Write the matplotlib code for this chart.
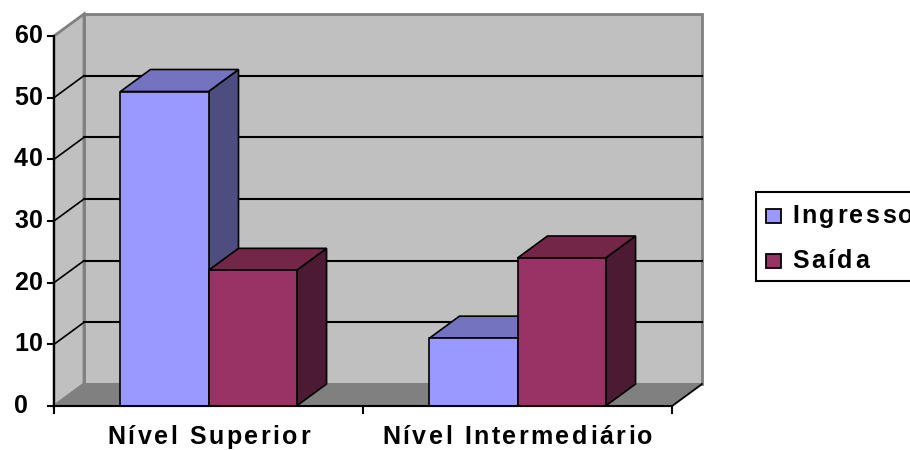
import numpy as np
import matplotlib
matplotlib.use("Agg")
import matplotlib.pyplot as plt
from matplotlib.patches import Polygon, Rectangle
from matplotlib.lines import Line2D
from matplotlib.transforms import IdentityTransform
from matplotlib.font_manager import FontProperties

plt.rcParams['font.family'] = ['Liberation Sans', 'DejaVu Sans']

categories = ['Nível Superior', 'Nível Intermediário']
series = ['Ingresso', 'Saída']
ingresso = [51, 11]
saida = [22, 24]
yticks = [0, 10, 20, 30, 40, 50, 60]

# face colours per series: front, top, side
colors = {
    'Ingresso': ('#9999ff', '#7373bf', '#4d4d80'),
    'Saída': ('#993366', '#732648', '#4d1a33'),
}

W, H = 910, 450
fig = plt.figure(figsize=(W / 100, H / 100), dpi=100)
fig.patch.set_facecolor('white')

# front plane of the 3d box
ax = fig.add_axes([54 / W, (H - 406) / H, 618 / W, 370 / H])
ax.set_xlim(0, 2)
ax.set_ylim(0, 60)
ax.axis('off')

DX, DY = 30, 22  # depth offset in pixels
fig.canvas.draw()
renderer = fig.canvas.get_renderer()
bold = FontProperties(family='Liberation Sans', weight='bold', size=18)


def pt(x, y, d=0.0):
    px, py = ax.transData.transform((x, y))
    return (px + d * DX, py + d * DY)


def poly(points, fc, ec='black', lw=1.2, z=1):
    p = Polygon(points, closed=True, facecolor=fc, edgecolor=ec, linewidth=lw,
                transform=IdentityTransform(), zorder=z, clip_on=False)
    fig.add_artist(p)


def line(points, color='black', lw=1.2, z=2):
    xs, ys = zip(*points)
    fig.add_artist(Line2D(xs, ys, color=color, linewidth=lw,
                          transform=IdentityTransform(), zorder=z))


def spaced_text(s, x, y, track=2.5, ha='left', z=6):
    # draw text char by char with extra letter spacing (pixels)
    def width(t):
        if not t:
            return 0.0
        return renderer.get_text_width_height_descent(t, bold, ismath=False)[0]
    total = width(s) + track * (len(s) - 1)
    x0 = x - total / 2 if ha == 'center' else x
    for k, ch in enumerate(s):
        if ch == ' ':
            continue
        xk = x0 + width(s[:k]) + track * k
        fig.text(xk / W, y / H, ch, fontproperties=bold, ha='left',
                 va='center', zorder=z)


# back wall
poly([pt(0, 0, 1), pt(2, 0, 1), pt(2, 60, 1), pt(0, 60, 1)], '#c0c0c0', ec='#808080', lw=2, z=1)
# left wall
poly([pt(0, 0), pt(0, 0, 1), pt(0, 60, 1), pt(0, 60)], '#c0c0c0', ec='#808080', lw=2, z=1)
# floor
poly([pt(0, 0), pt(2, 0), pt(2, 0, 1), pt(0, 0, 1)], '#808080', ec='#808080', lw=1.5, z=1)
line([pt(2, 0), pt(2, 0, 1)], z=2)

# gridlines on walls
for v in yticks[1:-1]:
    line([pt(0, v, 1), pt(2, v, 1)], lw=1.5)
    line([pt(0, v), pt(0, v, 1)], lw=1.2)

# bars
bw = 0.285
for i in range(len(categories)):
    c = i + 0.5
    for name, vals, x0 in (('Ingresso', ingresso, c - bw), ('Saída', saida, c)):
        v = vals[i]
        front, top, side = colors[name]
        x1 = x0 + bw
        poly([pt(x1, 0), pt(x1, 0, 1), pt(x1, v, 1), pt(x1, v)], side, z=3)
        poly([pt(x0, v), pt(x1, v), pt(x1, v, 1), pt(x0, v, 1)], top, z=3)
        poly([pt(x0, 0), pt(x1, 0), pt(x1, v), pt(x0, v)], front, z=3)

# axes lines and ticks
line([pt(0, 0), pt(0, 60)], lw=1.5, z=4)
line([pt(0, 0), pt(2, 0)], lw=1.5, z=4)
for v in yticks:
    x, y = pt(0, v)
    line([(x - 6, y), (x, y)], lw=1.5, z=4)
    spaced_text(str(v), x - 40, y, track=1.0)
for t in (0, 1, 2):
    x, y = pt(t, 0)
    line([(x, y), (x, y - 7)], lw=1.5, z=4)
for i, cat in enumerate(categories):
    x, y = pt(i + 0.5, 0)
    spaced_text(cat, x, y - 31, track=2.5, ha='center')

# legend box, running past the right edge
fig.add_artist(Rectangle((756 / W, (H - 281) / H), 220 / W, 89 / H,
                         transform=fig.transFigure, facecolor='white',
                         edgecolor='black', linewidth=1.5, zorder=5))
for k, name in enumerate(series):
    yc = 216 + k * 45
    fig.add_artist(Rectangle((766 / W, (H - yc - 7) / H), 15 / W, 14 / H,
                             transform=fig.transFigure, facecolor=colors[name][0],
                             edgecolor='black', linewidth=1.3, zorder=6))
    spaced_text(name, 792, H - yc, track=2.5)

fig.savefig('out.png', dpi=100)
